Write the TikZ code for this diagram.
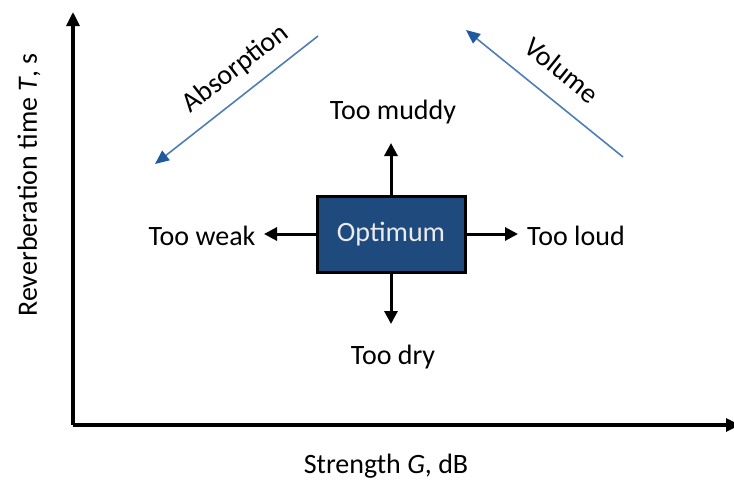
\documentclass[tikz,border=0pt]{standalone}
\usepackage{fontspec}
\setmainfont{Carlito}
\usetikzlibrary{arrows.meta}
\definecolor{boxblue}{HTML}{1F4A7E}
\definecolor{linblue}{HTML}{4F7DB5}
\definecolor{headblue}{HTML}{1F5A9E}
\tikzset{
  axis/.style={line width=3.2pt,-{Triangle[length=14pt,width=13pt]}},
  blk/.style={line width=3pt,-{Triangle[length=13pt,width=13pt]}},
  trend/.style={line width=1.6pt,linblue,-{Triangle[length=14pt,width=12pt,fill=headblue,color=headblue]}},
  lbl/.style={font=\fontsize{28}{32}\selectfont,inner sep=0pt},
  optbox/.style={draw=black,line width=3pt,fill=boxblue,minimum width=148pt,minimum height=76pt,text=white!92!black,font=\fontsize{28}{32}\selectfont}
}
\begin{document}
\begin{tikzpicture}[x=1pt,y=-1pt]
\useasboundingbox (0,0) rectangle (734,480);
\coordinate (O) at (73,425);
\coordinate (Ytop) at (73,12);
\coordinate (Xend) at (740,425);
\draw[axis] (O) -- (Ytop);
\draw[axis] (O) -- (Xend);
\node[lbl,rotate=90] (ylab) at (29,185) {Reverberation time \textit{T}, s};
\node[lbl] (xlab) at (386,466) {Strength \textit{G}, dB};
\node[optbox] (opt) at (391,234) {Optimum};
\node[lbl] (muddy) at (393,112) {Too muddy};
\node[lbl] (dry) at (393,357) {Too dry};
\node[lbl] (weak) at (202,236) {Too weak};
\node[lbl] (loud) at (576,236) {Too loud};
\coordinate (upT) at (391,143);
\coordinate (dnT) at (391,324);
\coordinate (lfT) at (264,234);
\coordinate (rtT) at (518,234);
\draw[blk] (opt.north) -- (upT);
\draw[blk] (opt.south) -- (dnT);
\draw[blk] (opt.west) -- (lfT);
\draw[blk] (opt.east) -- (rtT);
\coordinate (a1) at (318,36);
\coordinate (a2) at (155,164);
\draw[trend] (a1) -- (a2);
\node[lbl,rotate=38] (abs) at (236,69) {Absorption};
\coordinate (v1) at (623,157);
\coordinate (v2) at (466,30);
\draw[trend] (v1) -- (v2);
\node[lbl,rotate=-39] (vol) at (562,70) {Volume};
\end{tikzpicture}
\end{document}
